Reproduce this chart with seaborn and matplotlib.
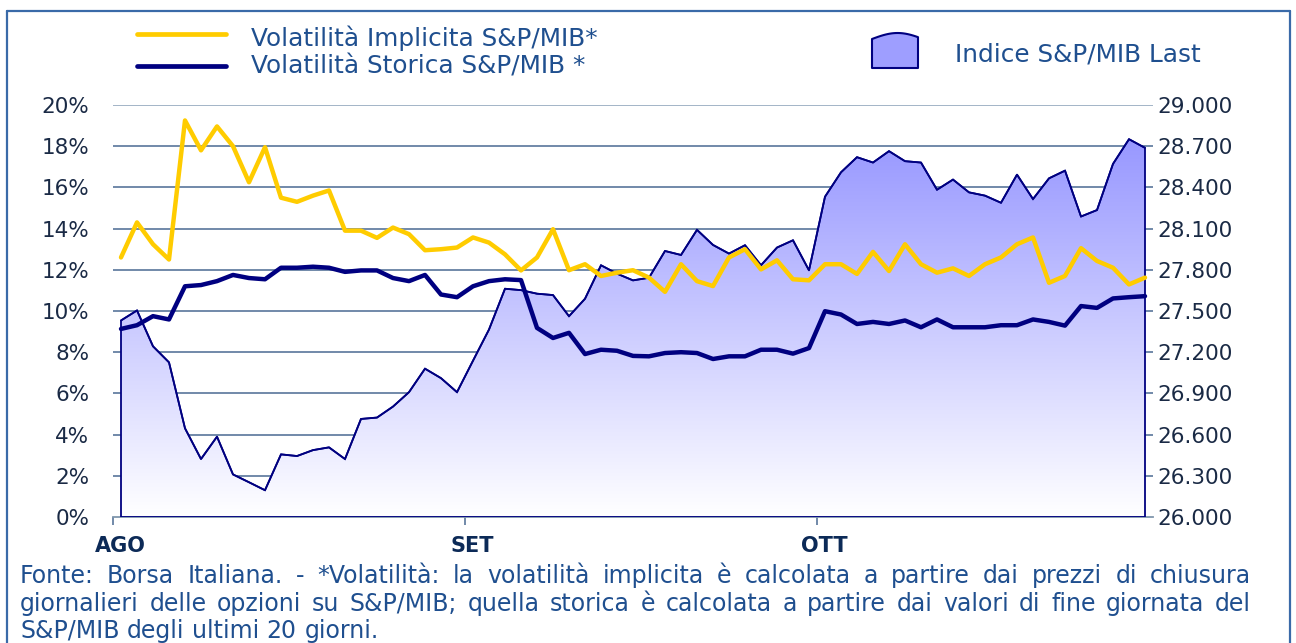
import numpy as np
import pandas as pd
import matplotlib
matplotlib.use("Agg")
import matplotlib.pyplot as plt
import seaborn as sns
from matplotlib.ticker import FuncFormatter
from matplotlib.patches import Polygon
from matplotlib.lines import Line2D
import matplotlib.transforms as mtransforms

# ---------------- data ----------------
months = ["AGO", "SET", "OTT"]
month_start = [0, 22, 44]  # first trading-day index of each month

index_last = [27431, 27504, 27243, 27126, 26646, 26422, 26585, 26310, 26253, 26195,
              26456, 26444, 26487, 26507, 26422, 26714, 26724, 26804, 26909, 27080,
              27011, 26909, 27138, 27365, 27662, 27652, 27626, 27616, 27462, 27589,
              27833, 27772, 27723, 27742, 27937, 27908, 28091, 27981, 27918, 27979,
              27833, 27962, 28015, 27796, 28332, 28510, 28620, 28581, 28664, 28591,
              28581, 28383, 28457, 28364, 28340, 28288, 28493, 28315, 28466, 28522,
              28188, 28235, 28571, 28751, 28688]

vol_implicita = [12.6, 14.3, 13.24, 12.5, 19.25, 17.8, 18.96, 18.0, 16.25, 17.95,
                 15.5, 15.3, 15.6, 15.85, 13.9, 13.9, 13.55, 14.05, 13.73, 12.95,
                 13.0, 13.08, 13.57, 13.32, 12.75, 11.97, 12.6, 13.97, 11.98, 12.27,
                 11.7, 11.86, 11.98, 11.62, 10.93, 12.27, 11.45, 11.21, 12.6, 13.0,
                 12.02, 12.46, 11.54, 11.49, 12.27, 12.27, 11.8, 12.87, 11.94, 13.24,
                 12.27, 11.86, 12.07, 11.7, 12.27, 12.6, 13.24, 13.57, 11.37, 11.7,
                 13.05, 12.43, 12.1, 11.29, 11.62]

vol_storica = [9.13, 9.31, 9.75, 9.59, 11.2, 11.26, 11.45, 11.75, 11.6, 11.54,
               12.1, 12.1, 12.15, 12.1, 11.9, 11.97, 11.97, 11.6, 11.45, 11.75,
               10.8, 10.67, 11.2, 11.45, 11.54, 11.5, 9.18, 8.69, 8.94, 7.91,
               8.12, 8.07, 7.82, 7.8, 7.96, 8.0, 7.96, 7.67, 7.8, 7.8,
               8.12, 8.12, 7.93, 8.2, 9.99, 9.83, 9.37, 9.47, 9.37, 9.54,
               9.21, 9.59, 9.21, 9.21, 9.21, 9.31, 9.31, 9.59, 9.47, 9.29,
               10.24, 10.15, 10.61, 10.67, 10.72]

pct_ticks = list(range(0, 21, 2))
idx_ticks = list(range(26000, 29001, 300))

label_impl = "Volatilità Implicita S&P/MIB*"
label_stor = "Volatilità Storica S&P/MIB *"
label_index = "Indice S&P/MIB Last"
footnote = [
    "Fonte: Borsa Italiana.  -  *Volatilità: la volatilità implicita è calcolata a partire dai prezzi di chiusura",
    "giornalieri delle opzioni su S&P/MIB; quella storica è calcolata a partire dai valori di fine giornata del",
    "S&P/MIB degli ultimi 20 giorni.",
]

# ---------------- style ----------------
sns.set_theme(style="white")
plt.rcParams["font.family"] = ["DejaVu Sans"]

W, H = 1296, 643
fig = plt.figure(figsize=(W / 100, H / 100), dpi=100)
fig.patch.set_facecolor("white")

def fx(px):
    return px / W

def fy(py):
    return 1 - py / H

NAVY = "#000080"
YELLOW = "#FFCC00"
TEXT_BLUE = "#1f4f8f"
TICK_COL = "#1a2a45"
GRID = "#4a6a92"
TICK_FS = 15.5
FOOT_FS = 17

n = len(index_last)
df = pd.DataFrame({
    "giorno": np.arange(n),
    "indice": index_last,
    "impl": vol_implicita,
    "stor": vol_storica,
})

left_px, right_px, top_px, bot_px = 113, 1153, 105, 517
ax_area = fig.add_axes([fx(left_px), fy(bot_px), fx(right_px) - fx(left_px), fy(top_px) - fy(bot_px)])
ax_vol = ax_area.twinx()

# ---------------- area (right axis) ----------------
ax_area.set_xlim(-0.5, n - 0.5)
ax_area.set_ylim(26000, 29000)
ax_area.set_yticks(idx_ticks)
ax_area.yaxis.set_major_formatter(FuncFormatter(lambda v, p: f"{int(v):,}".replace(",", ".")))
ax_area.grid(axis="y", color=GRID, lw=1.1)
ax_area.set_axisbelow(True)
gls = ax_area.yaxis.get_gridlines()
gls[-1].set_color("#8aa0b8")
gls[0].set_visible(False)

verts = [(df["giorno"].iloc[0], 26000)] + list(zip(df["giorno"], df["indice"])) + [(df["giorno"].iloc[-1], 26000)]
poly = Polygon(verts, closed=True, facecolor="none", edgecolor=NAVY, lw=1.3, zorder=3)
ax_area.add_patch(poly)

# vertical gradient fill clipped to the area
vals = np.linspace(26000, 29000, 300)
f = np.clip((vals - 26000) / 2800.0, 0, 1)[:, None]
top_c = np.array([150, 150, 255]) / 255.0
bot_c = np.array([255, 255, 255]) / 255.0
grad = bot_c * (1 - f) + top_c * f
grad = np.repeat(grad[:, None, :], 2, axis=1)
img = ax_area.imshow(grad, extent=[-0.5, n - 0.5, 26000, 29000], origin="lower",
                     aspect="auto", zorder=2, interpolation="bilinear")
img.set_clip_path(poly)
sns.lineplot(data=df, x="giorno", y="indice", ax=ax_area, color=NAVY, lw=1.3, zorder=3)
ax_area.set_xlim(-0.5, n - 0.5)
ax_area.set_ylim(26000, 29000)

ax_area.yaxis.tick_right()
ax_area.yaxis.set_label_position("right")
ax_area.tick_params(axis="y", length=0, pad=3, labelsize=TICK_FS, labelcolor=TICK_COL, left=False, right=False)
ax_area.set_xlabel("")
ax_area.set_ylabel("")

tick_pos = [s - 0.5 for s in month_start]
ax_area.set_xticks(tick_pos)
ax_area.set_xticklabels([""] * len(tick_pos))
ax_area.tick_params(axis="x", bottom=True, length=6, width=1.1, color=GRID, direction="out")
for s in ["left", "right", "top"]:
    ax_area.spines[s].set_visible(False)
ax_area.spines["bottom"].set_color("#7f96ad")
ax_area.spines["bottom"].set_linewidth(1.3)

trans = mtransforms.blended_transform_factory(ax_area.transData, ax_area.transAxes)
for m, s in zip(months, month_start):
    ax_area.text(s - 0.05, -(546 - 517) / (517 - 105), m, transform=trans, ha="center", va="center",
                 fontsize=15, fontweight="bold", color="#0c2a57")

# ---------------- volatility lines (left axis) ----------------
sns.lineplot(data=df, x="giorno", y="stor", ax=ax_vol, color=NAVY, lw=3.2, zorder=4)
sns.lineplot(data=df, x="giorno", y="impl", ax=ax_vol, color=YELLOW, lw=3.2, zorder=5)
ax_vol.set_ylim(0, 20)
ax_vol.set_xlim(-0.5, n - 0.5)
ax_vol.set_yticks(pct_ticks)
ax_vol.yaxis.set_major_formatter(FuncFormatter(lambda v, p: f"{int(round(v))}%"))
ax_vol.yaxis.tick_left()
ax_vol.yaxis.set_label_position("left")
ax_vol.tick_params(axis="y", length=0, pad=17, labelsize=TICK_FS, labelcolor=TICK_COL, left=False, right=False)
ax_vol.grid(False)
ax_vol.set_xlabel("")
ax_vol.set_ylabel("")
for s in ax_vol.spines.values():
    s.set_visible(False)
ax_vol.patch.set_visible(False)

# ---------------- legend ----------------
fig.add_artist(Line2D([fx(137), fx(226)], [fy(34), fy(34)], color=YELLOW, lw=3.4, transform=fig.transFigure))
fig.add_artist(Line2D([fx(137), fx(226)], [fy(66), fy(66)], color=NAVY, lw=3.4, transform=fig.transFigure))
fig.text(fx(251), fy(46), label_impl, fontsize=17.8, color=TEXT_BLUE, va="baseline", ha="left")
fig.text(fx(251), fy(74), label_stor, fontsize=17.8, color=TEXT_BLUE, va="baseline", ha="left")

t = np.linspace(0, 1, 40)
top_y = 39 - 6 * np.sin(np.pi * t * 0.9)
pts = [(fx(872), fy(68))] + [(fx(872 + 46 * ti), fy(yi)) for ti, yi in zip(t, top_y)] + [(fx(918), fy(68))]
fig.add_artist(Polygon(pts, closed=True, facecolor="#9e9eff", edgecolor=NAVY, lw=1.5,
                       joinstyle="round", transform=fig.transFigure))
fig.text(fx(955), fy(61), label_index, fontsize=17.8, color=TEXT_BLUE, va="baseline", ha="left")

# ---------------- frame ----------------
frame_c = "#3a6aa8"
fig.add_artist(Line2D([fx(7), fx(7)], [fy(11), 0], color=frame_c, lw=1.6, transform=fig.transFigure))
fig.add_artist(Line2D([fx(7), fx(1290)], [fy(11), fy(11)], color=frame_c, lw=1.6, transform=fig.transFigure))
fig.add_artist(Line2D([fx(1290), fx(1290)], [fy(11), 0], color=frame_c, lw=1.6, transform=fig.transFigure))

# ---------------- footnote (justified) ----------------
renderer = fig.canvas.get_renderer()

def natural_space():
    a = fig.text(0, 0, "a a", fontsize=FOOT_FS)
    b = fig.text(0, 0, "aa", fontsize=FOOT_FS)
    g = a.get_window_extent(renderer).width - b.get_window_extent(renderer).width
    a.remove(); b.remove()
    return g

def justified(line, y_base, x0, x1, justify=True):
    words = line.split()
    texts = [fig.text(0, fy(y_base), w, fontsize=FOOT_FS, color=TEXT_BLUE, va="baseline", ha="left")
             for w in words]
    widths = [tt.get_window_extent(renderer).width for tt in texts]
    if justify and len(words) > 1:
        gap = (x1 - x0 - sum(widths)) / (len(words) - 1)
    else:
        gap = natural_space()
    x = x0
    for tt, w in zip(texts, widths):
        tt.set_x(fx(x))
        x += w + gap

justified(footnote[0], 583, 20, 1251)
justified(footnote[1], 611, 20, 1251)
justified(footnote[2], 638, 20, 1251, justify=False)

fig.savefig("out.png", dpi=100)
